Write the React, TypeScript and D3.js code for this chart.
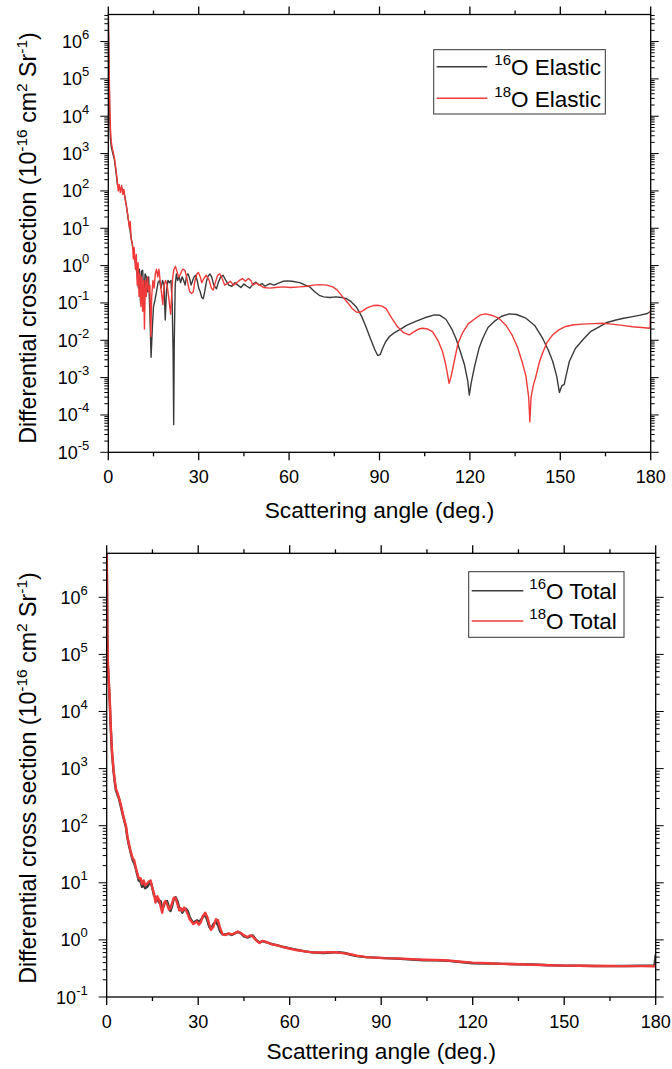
import React, { useEffect, useRef } from 'react';
import * as d3 from 'd3';

// [scattering angle (deg), differential cross section]
const o16Elastic: [number, number][] = [
  [0.02, 5e6], [0.1, 1.5e6], [0.2, 4e5], [0.3, 1e5], [0.4, 2.5e4], [0.5, 8e3], [0.7, 2.5e3],
  [1.0, 1.5e3], [1.5, 1e3], [2.0, 700], [2.6, 300], [3.0, 150], [3.5, 120], [4.0, 110],
  [4.5, 120], [5.0, 100], [5.5, 70], [6.0, 40], [6.5, 20], [7.0, 12], [7.5, 6], [8.0, 3.5],
  [8.5, 2.2], [9.0, 1.2], [9.5, 0.6], [10.0, 0.25], [10.3, 0.8], [10.7, 0.1], [11.0, 0.7],
  [11.4, 0.75], [11.8, 0.15], [12.2, 0.6], [12.6, 0.5], [13.0, 0.2], [13.4, 0.5], [13.8, 0.05],
  [14.2, 0.0035], [14.6, 0.02], [15.0, 0.08], [15.5, 0.12], [16.0, 0.2], [16.5, 0.35],
  [17.0, 0.4], [17.5, 0.25], [18.0, 0.4], [18.5, 0.3], [18.9, 0.035], [19.3, 0.2], [19.8, 0.4],
  [20.3, 0.35], [20.8, 0.4], [21.2, 0.1], [21.5, 0.005], [21.7, 5.5e-5], [21.9, 0.01],
  [22.2, 0.3], [22.6, 0.6], [23.0, 0.4], [23.5, 0.5], [24.0, 0.35], [24.5, 0.5], [25.0, 0.4],
  [25.5, 0.3], [26.0, 0.55], [26.5, 0.6], [27.0, 0.45], [27.5, 0.3], [28.0, 0.4], [28.5, 0.5],
  [29.0, 0.55], [29.5, 0.4], [30.0, 0.25], [30.5, 0.2], [31.0, 0.14], [31.5, 0.13], [32.0, 0.2],
  [32.5, 0.35], [33.0, 0.5], [33.7, 0.6], [34.3, 0.5], [35.0, 0.3], [35.9, 0.24], [36.5, 0.35],
  [37.3, 0.5], [38.1, 0.55], [39.0, 0.4], [40.0, 0.3], [41.0, 0.28], [42.0, 0.35], [43.0, 0.3],
  [44.0, 0.26], [45.0, 0.32], [46.0, 0.28], [47.0, 0.25], [48.0, 0.32], [49.0, 0.36], [50.0, 0.3],
  [51.0, 0.33], [52.0, 0.28], [53.6, 0.33], [55.0, 0.3], [56.5, 0.34], [58.0, 0.38], [59.5, 0.39],
  [61.0, 0.38], [63.5, 0.35], [65.0, 0.31], [66.8, 0.27], [68.5, 0.2], [70.0, 0.16], [71.5, 0.145],
  [73.5, 0.14], [75.5, 0.145], [77.5, 0.14], [79.0, 0.13], [80.5, 0.11], [82.3, 0.078], [84.0, 0.045],
  [85.6, 0.022], [87.0, 0.011], [88.5, 0.0055], [89.4, 0.0039], [90.3, 0.0042], [91.0, 0.006],
  [92.0, 0.009], [93.3, 0.0126], [95.0, 0.016], [96.6, 0.019], [99.0, 0.025], [102.0, 0.032],
  [105.0, 0.04], [108.2, 0.048], [110.0, 0.047], [112.1, 0.036], [114.0, 0.02], [115.4, 0.011],
  [117.0, 0.0045], [118.2, 0.0022], [119.3, 0.0008], [119.8, 0.00034], [120.4, 0.0007],
  [121.5, 0.0019], [123.0, 0.006], [124.2, 0.011], [126.0, 0.022], [128.1, 0.032], [130.5, 0.044],
  [133.1, 0.051], [135.5, 0.049], [138.6, 0.039], [141.5, 0.025], [144.2, 0.011], [146.0, 0.0055],
  [147.5, 0.0027], [148.8, 0.0011], [149.7, 0.0004], [150.5, 0.0006], [151.3, 0.00066],
  [152.0, 0.0012], [153.0, 0.0027], [155.0, 0.006], [157.4, 0.0102], [160.0, 0.017], [162.9, 0.023],
  [165.5, 0.03], [168.5, 0.035], [171.0, 0.039], [174.0, 0.043], [176.5, 0.047], [178.9, 0.052],
  [180.0, 0.06],
];

const o18Elastic: [number, number][] = [
  [0.02, 5e6], [0.1, 1.8e6], [0.2, 5e5], [0.3, 1.5e5], [0.4, 5e4], [0.5, 2e4], [0.7, 5e3],
  [1.0, 2e3], [1.5, 1.2e3], [2.0, 800], [2.6, 350], [3.0, 180], [3.3, 100], [3.6, 150], [4.0, 90],
  [4.4, 140], [4.8, 80], [5.2, 110], [5.6, 60], [6.0, 40], [6.5, 22], [7.0, 10], [7.3, 15],
  [7.6, 5], [8.0, 4], [8.3, 1.5], [8.6, 3], [9.0, 0.8], [9.3, 2], [9.6, 0.3], [9.9, 1.2],
  [10.2, 0.15], [10.5, 0.6], [10.8, 0.08], [11.1, 0.5], [11.4, 0.06], [11.7, 0.4], [12.0, 0.02],
  [12.3, 0.4], [12.6, 0.15], [13.0, 0.5], [13.4, 0.2], [13.8, 0.3], [14.1, 0.0125], [14.4, 0.15],
  [14.8, 0.4], [15.2, 0.25], [15.6, 0.6], [16.0, 0.8], [16.4, 0.5], [16.8, 0.8], [17.2, 0.4],
  [17.6, 0.2], [18.1, 0.09], [18.5, 0.3], [19.0, 0.4], [19.5, 0.3], [20.0, 0.15], [20.4, 0.08],
  [20.7, 0.05], [21.0, 0.15], [21.4, 0.5], [21.8, 0.8], [22.3, 0.95], [22.8, 0.7], [23.3, 0.5],
  [23.8, 0.55], [24.3, 0.7], [24.8, 0.8], [25.4, 0.75], [26.0, 0.5], [26.5, 0.3], [27.0, 0.2],
  [27.7, 0.18], [28.2, 0.2], [28.8, 0.4], [29.4, 0.6], [29.9, 0.65], [30.5, 0.5], [31.0, 0.35],
  [31.7, 0.45], [32.5, 0.55], [33.5, 0.4], [34.2, 0.25], [34.8, 0.22], [35.5, 0.35], [36.3, 0.55],
  [37.0, 0.6], [37.8, 0.45], [38.6, 0.3], [39.5, 0.33], [40.5, 0.38], [41.5, 0.3], [42.5, 0.34],
  [43.5, 0.4], [44.5, 0.45], [45.5, 0.38], [46.5, 0.45], [47.3, 0.4], [48.0, 0.3], [49.0, 0.34],
  [50.3, 0.3], [51.5, 0.26], [53.6, 0.25], [55.5, 0.26], [58.0, 0.27], [60.5, 0.26], [63.5, 0.27],
  [66.0, 0.28], [68.0, 0.3], [70.1, 0.31], [72.5, 0.3], [74.5, 0.27], [76.0, 0.22], [77.8, 0.145],
  [79.5, 0.1], [81.0, 0.07], [82.3, 0.057], [83.5, 0.056], [84.5, 0.062], [86.0, 0.075],
  [88.0, 0.085], [89.4, 0.087], [90.8, 0.082], [92.2, 0.07], [94.0, 0.04], [96.0, 0.023],
  [98.0, 0.016], [99.9, 0.014], [101.5, 0.017], [103.0, 0.02], [104.3, 0.021], [106.0, 0.02],
  [107.6, 0.017], [109.5, 0.0095], [110.9, 0.005], [112.0, 0.0022], [113.1, 0.0007],
  [113.8, 0.0011], [114.8, 0.0027], [116.0, 0.008], [117.5, 0.0155], [119.5, 0.028],
  [121.9, 0.039], [123.5, 0.048], [125.2, 0.051], [127.5, 0.046], [129.6, 0.039], [132.0, 0.025],
  [134.0, 0.0138], [135.8, 0.0065], [137.3, 0.0027], [138.6, 0.0011], [139.5, 0.0003],
  [139.9, 6.6e-5], [140.3, 0.0003], [141.0, 0.0006], [141.8, 0.001], [143.0, 0.0025],
  [144.0, 0.0043], [145.5, 0.0085], [147.4, 0.0138], [149.5, 0.019], [151.8, 0.0234],
  [154.5, 0.026], [157.4, 0.027], [161.0, 0.028], [164.0, 0.0285], [167.0, 0.027], [170.6, 0.025],
  [174.0, 0.023], [177.0, 0.022], [179.8, 0.021], [180.0, 0.12],
];

const o16Total: [number, number][] = [
  [0.02, 6e6], [0.1, 1.5e6], [0.2, 2e5], [0.4, 6e4], [0.75, 2.8e4], [1.0, 1.5e4], [1.3, 5.5e3],
  [1.7, 2e3], [2.2, 950], [2.6, 600], [3.0, 420], [3.5, 350], [4.0, 300], [4.6, 220], [5.2, 160],
  [5.8, 120], [6.3, 95], [6.8, 60], [7.3, 45], [7.9, 33], [8.5, 25], [9.0, 22], [9.5, 18],
  [10.0, 14], [10.5, 11], [11.1, 10.5], [11.6, 8.5], [12.1, 9.5], [12.6, 8], [13.3, 8.5],
  [13.8, 9.5], [14.4, 10.5], [15.0, 8], [15.5, 6], [16.0, 5.5], [16.6, 5.2], [17.2, 4.5],
  [17.7, 4.8], [18.2, 3.3], [18.7, 4], [19.2, 4.6], [19.8, 4.8], [20.4, 3.8], [20.9, 3.2],
  [21.5, 4], [22.0, 5.2], [22.6, 5.6], [23.2, 4.8], [23.8, 3.6], [24.3, 3.4], [24.8, 3.0],
  [25.4, 3.4], [26.0, 3.5], [26.6, 3.2], [27.2, 2.5], [27.8, 2.2], [28.4, 2.0], [29.0, 2.1],
  [29.6, 2.2], [30.2, 2.1], [30.8, 2.2], [31.5, 2.5], [32.3, 2.8], [33.0, 2.2], [33.6, 1.7],
  [34.2, 1.55], [35.0, 1.9], [35.8, 2.1], [36.5, 1.8], [37.2, 1.4], [38.0, 1.25], [39.0, 1.25],
  [40.0, 1.28], [41.0, 1.22], [42.0, 1.3], [43.0, 1.38], [44.0, 1.3], [45.0, 1.15], [46.2, 1.1],
  [47.0, 1.15], [47.9, 1.2], [49.0, 1.0], [50.1, 0.9], [51.0, 0.95], [52.0, 0.92], [54.0, 0.85],
  [56.0, 0.8], [58.0, 0.75], [60.1, 0.71], [62.5, 0.67], [65.0, 0.63], [68.0, 0.6], [71.0, 0.59],
  [73.5, 0.6], [76.0, 0.61], [78.0, 0.59], [80.0, 0.55], [82.0, 0.52], [85.0, 0.5], [88.0, 0.49],
  [91.0, 0.48], [95.0, 0.47], [100.0, 0.455], [104.0, 0.44], [108.0, 0.44], [112.0, 0.43],
  [116.0, 0.41], [120.0, 0.39], [125.0, 0.385], [130.0, 0.38], [135.0, 0.375], [140.0, 0.37],
  [145.0, 0.36], [150.0, 0.355], [155.0, 0.353], [160.0, 0.35], [165.0, 0.348], [170.0, 0.35],
  [175.0, 0.352], [179.6, 0.355], [180.0, 0.55],
];

const o18Total: [number, number][] = [
  [0.02, 6e6], [0.1, 1.8e6], [0.2, 2.5e5], [0.4, 7e4], [0.75, 3e4], [1.0, 1.6e4], [1.3, 6e3],
  [1.7, 2.2e3], [2.2, 1e3], [2.6, 650], [3.0, 450], [3.5, 380], [4.0, 310], [4.6, 240], [5.2, 170],
  [5.8, 125], [6.3, 100], [6.8, 65], [7.3, 48], [7.9, 35], [8.5, 27], [9.0, 25], [9.5, 19],
  [10.0, 15], [10.5, 12], [11.1, 12], [11.6, 9.5], [12.1, 11], [12.6, 9], [13.3, 9.8],
  [13.8, 10.5], [14.4, 11], [15.0, 8], [15.5, 6.5], [16.0, 4.5], [16.6, 5.8], [17.2, 5],
  [17.7, 3.8], [18.2, 3.0], [18.7, 4.3], [19.2, 4.8], [19.8, 4.2], [20.4, 3.4], [20.9, 3.6],
  [21.5, 4.5], [22.0, 5.5], [22.6, 5.4], [23.2, 4.2], [23.8, 3.3], [24.3, 3.6], [24.8, 3.2],
  [25.4, 3.7], [26.0, 3.3], [26.6, 2.8], [27.2, 2.3], [27.8, 2.1], [28.4, 1.9], [29.0, 2.0],
  [29.6, 2.1], [30.2, 1.85], [30.8, 2.0], [31.5, 2.6], [32.3, 3.0], [33.0, 2.5], [33.6, 1.9],
  [34.2, 1.5], [35.0, 1.7], [35.8, 2.3], [36.5, 2.2], [37.2, 1.6], [38.0, 1.25], [39.0, 1.22],
  [40.0, 1.3], [41.0, 1.25], [42.0, 1.3], [43.0, 1.4], [44.0, 1.32], [45.0, 1.2], [46.2, 1.12],
  [47.0, 1.2], [47.9, 1.15], [49.0, 0.98], [50.1, 0.88], [51.0, 0.96], [52.0, 0.93], [54.0, 0.84],
  [56.0, 0.8], [58.0, 0.75], [60.1, 0.7], [62.5, 0.66], [65.0, 0.63], [68.0, 0.6], [71.0, 0.6],
  [73.5, 0.61], [76.0, 0.6], [78.0, 0.58], [80.0, 0.56], [82.0, 0.53], [85.0, 0.5], [88.0, 0.49],
  [91.0, 0.48], [95.0, 0.475], [100.0, 0.46], [104.0, 0.45], [108.0, 0.445], [112.0, 0.435],
  [116.0, 0.415], [120.0, 0.4], [125.0, 0.39], [130.0, 0.38], [135.0, 0.375], [140.0, 0.368],
  [145.0, 0.36], [150.0, 0.355], [155.0, 0.352], [160.0, 0.35], [165.0, 0.349], [170.0, 0.348],
  [175.0, 0.347], [179.6, 0.345], [180.0, 0.36],
];

const xMajor = [0, 30, 60, 90, 120, 150, 180];
const xMinor = [15, 45, 75, 105, 135, 165];
const elasticDecades = [-5, -4, -3, -2, -1, 0, 1, 2, 3, 4, 5, 6];
const totalDecades = [-1, 0, 1, 2, 3, 4, 5, 6];
const elasticLabels = ['Elastic', 'Elastic'];
const totalLabels = ['Total', 'Total'];
const isotopes = ['16', '18'];

const BLACK = '#3a3a3a';
const RED = '#f03a3a';
const FONT = '"Liberation Sans", Arial, sans-serif';

const drawPanel = (svg, cfg) => {
  const x = d3.scaleLinear().domain([0, 180]).range([cfg.left, cfg.right]);
  const y = d3.scaleLog().domain([cfg.yMin, cfg.yMax]).range([cfg.bottom, cfg.top]);
  const g = svg.append('g');

  g.append('clipPath').attr('id', cfg.id)
    .append('rect')
    .attr('x', cfg.left).attr('y', cfg.top)
    .attr('width', cfg.right - cfg.left).attr('height', cfg.bottom - cfg.top);

  // curves
  const line = d3.line().x(d => x(d[0])).y(d => y(d[1]));
  cfg.series.forEach(s => {
    g.append('path')
      .datum(s.data)
      .attr('d', line)
      .attr('fill', 'none')
      .attr('stroke', s.color)
      .attr('stroke-width', cfg.lineWidth)
      .attr('stroke-linejoin', 'round')
      .attr('clip-path', `url(#${cfg.id})`);
  });

  // frame
  g.append('rect')
    .attr('x', cfg.left).attr('y', cfg.top)
    .attr('width', cfg.right - cfg.left).attr('height', cfg.bottom - cfg.top)
    .attr('fill', 'none').attr('stroke', '#000').attr('stroke-width', 1.3);

  // x ticks, bottom and top, outward
  const xt = [...xMajor.map(v => [v, 8]), ...xMinor.map(v => [v, 4])];
  xt.forEach(([v, len]) => {
    g.append('line').attr('x1', x(v)).attr('x2', x(v))
      .attr('y1', cfg.bottom).attr('y2', cfg.bottom + len)
      .attr('stroke', '#000').attr('stroke-width', 1.3);
    g.append('line').attr('x1', x(v)).attr('x2', x(v))
      .attr('y1', cfg.top).attr('y2', cfg.top - len)
      .attr('stroke', '#000').attr('stroke-width', 1.3);
  });
  g.selectAll('.xlab')
    .data(xMajor)
    .enter().append('text')
    .attr('x', d => x(d))
    .attr('y', cfg.bottom + 31)
    .attr('text-anchor', 'middle')
    .attr('font-family', FONT)
    .attr('font-size', 18)
    .text(d => d);

  // y ticks (log), left and right, outward
  const yt = [];
  cfg.decades.forEach(k => {
    yt.push([Math.pow(10, k), 8]);
    for (let m = 2; m <= 9; m++) {
      const v = m * Math.pow(10, k);
      if (v <= cfg.yMax) yt.push([v, 4]);
    }
  });
  yt.forEach(([v, len]) => {
    g.append('line').attr('x1', cfg.left - len).attr('x2', cfg.left)
      .attr('y1', y(v)).attr('y2', y(v))
      .attr('stroke', '#000').attr('stroke-width', 1);
    g.append('line').attr('x1', cfg.right).attr('x2', cfg.right + len)
      .attr('y1', y(v)).attr('y2', y(v))
      .attr('stroke', '#000').attr('stroke-width', 1);
  });
  cfg.decades.forEach(k => {
    const t = g.append('text')
      .attr('x', cfg.left - 19)
      .attr('y', y(Math.pow(10, k)) + 6.5)
      .attr('text-anchor', 'end')
      .attr('font-family', FONT)
      .attr('font-size', 18);
    t.append('tspan').text('10');
    t.append('tspan').attr('dy', -9).attr('font-size', 13).text(k);
  });

  // axis titles
  g.append('text')
    .attr('x', (cfg.left + cfg.right) / 2)
    .attr('y', cfg.titleY)
    .attr('text-anchor', 'middle')
    .attr('font-family', FONT)
    .attr('font-size', 22.7)
    .text('Scattering angle (deg.)');

  const yt2 = g.append('text')
    .attr('transform', `translate(36,${cfg.yTitleY}) rotate(-90)`)
    .attr('text-anchor', 'middle')
    .attr('font-family', FONT)
    .attr('font-size', 23.2);
  yt2.append('tspan').text('Differential cross section (10');
  yt2.append('tspan').attr('dy', -9).attr('font-size', 15.5).text('-16');
  yt2.append('tspan').attr('dy', 9).text(' cm');
  yt2.append('tspan').attr('dy', -9).attr('font-size', 15.5).text('2');
  yt2.append('tspan').attr('dy', 9).text(' Sr');
  yt2.append('tspan').attr('dy', -9).attr('font-size', 15.5).text('-1');
  yt2.append('tspan').attr('dy', 9).text(')');

  // legend
  const lg = cfg.legend;
  g.append('rect')
    .attr('x', lg.x0).attr('y', lg.y0)
    .attr('width', lg.x1 - lg.x0).attr('height', lg.y1 - lg.y0)
    .attr('fill', '#fff').attr('stroke', '#333').attr('stroke-width', 1);
  cfg.series.forEach((s, i) => {
    g.append('line')
      .attr('x1', lg.lineX0).attr('x2', lg.lineX1)
      .attr('y1', lg.rows[i][0]).attr('y2', lg.rows[i][0])
      .attr('stroke', s.color).attr('stroke-width', 1.6);
    const t = g.append('text')
      .attr('x', lg.textX)
      .attr('y', lg.rows[i][1] - 10)
      .attr('font-family', FONT)
      .attr('font-size', 22.5);
    t.append('tspan').attr('font-size', 15).text(isotopes[i]);
    t.append('tspan').attr('dy', 10).text('O ' + cfg.labels[i]);
  });
};

const App = () => {
  const svgRef = useRef(null);

  useEffect(() => {
    const svg = d3.select(svgRef.current);
    svg.selectAll('*').remove();

    drawPanel(svg, {
      id: 'clip-elastic',
      left: 108.3, right: 650.7, top: 14.5, bottom: 452.3,
      yMin: 1e-5, yMax: 5.3e6,
      decades: elasticDecades,
      titleY: 518, yTitleY: 238,
      lineWidth: 1.4,
      labels: elasticLabels,
      series: [
        { data: o16Elastic, color: BLACK },
        { data: o18Elastic, color: RED },
      ],
      legend: {
        x0: 433.7, y0: 49.7, x1: 605.3, y1: 114,
        lineX0: 436.7, lineX1: 487.3, textX: 494.3,
        rows: [[66.7, 75.3], [98.3, 106.7]],
      },
    });

    drawPanel(svg, {
      id: 'clip-total',
      left: 106.7, right: 655.7, top: 553.3, bottom: 997,
      yMin: 0.1, yMax: 5.9e6,
      decades: totalDecades,
      titleY: 1059, yTitleY: 778,
      lineWidth: 2.4,
      labels: totalLabels,
      series: [
        { data: o16Total, color: BLACK },
        { data: o18Total, color: RED },
      ],
      legend: {
        x0: 468.7, y0: 571.7, x1: 624, y1: 637.3,
        lineX0: 471.7, lineX1: 523.3, textX: 529.3,
        rows: [[590.7, 599], [621, 629.3]],
      },
    });
  }, []);

  return (
    <svg
      ref={svgRef}
      width={672}
      height={1069}
      style={{ position: 'absolute', left: 0, top: 0, background: '#fff' }}
    ></svg>
  );
};

export default App;
